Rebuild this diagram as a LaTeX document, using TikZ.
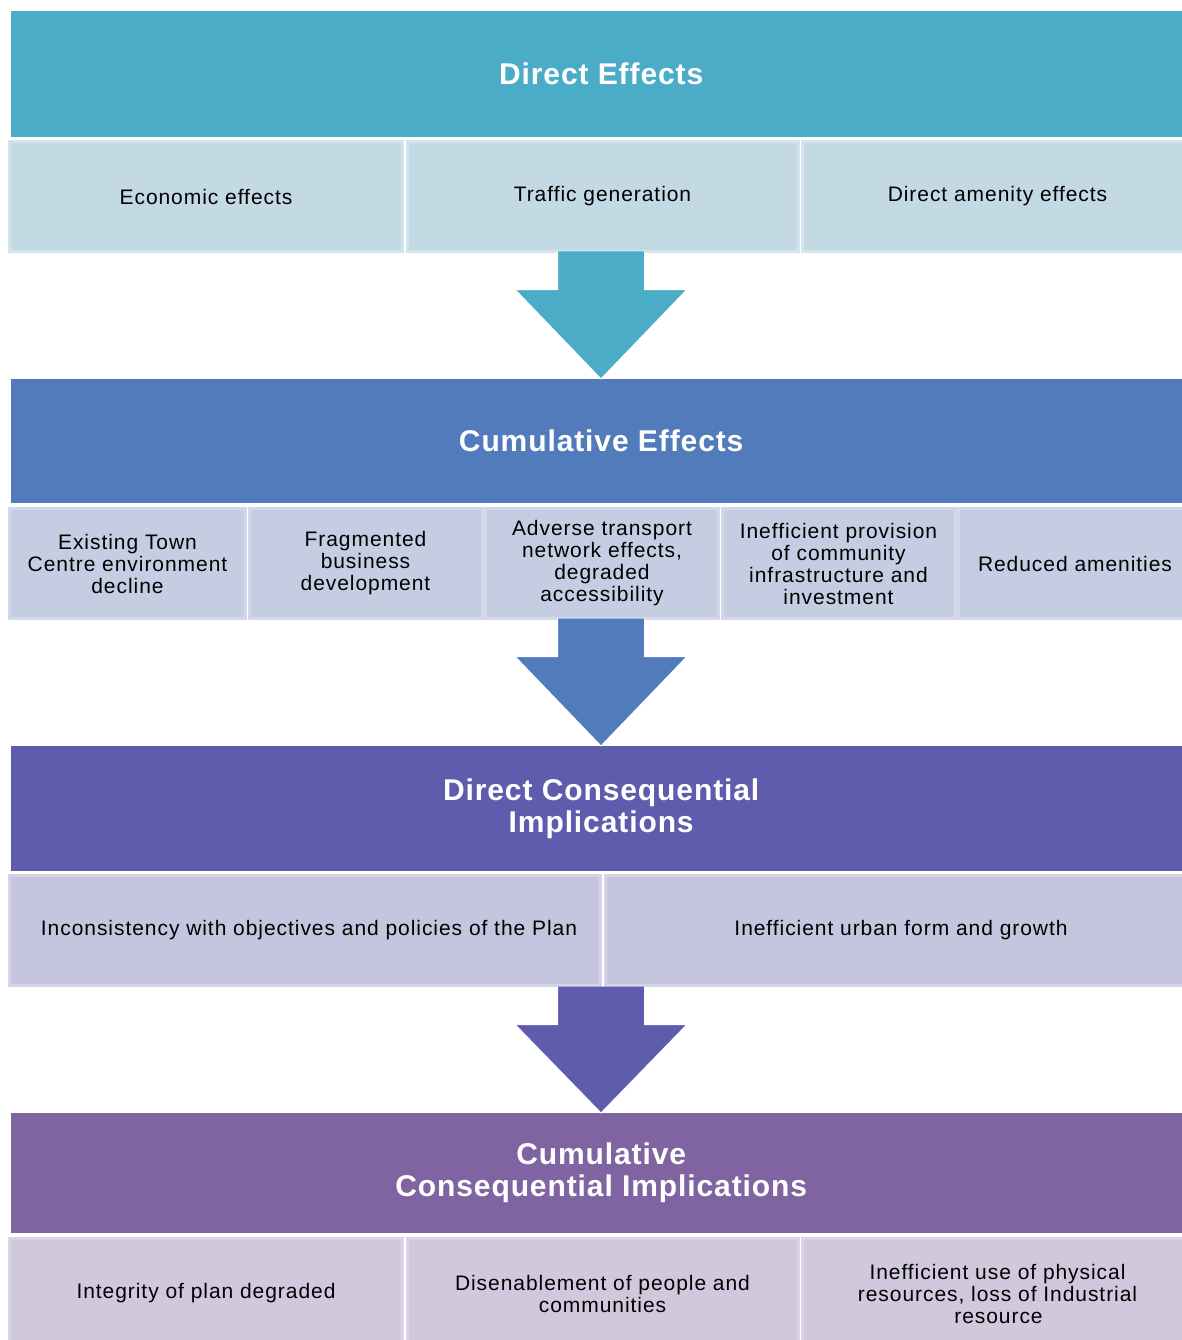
\documentclass[tikz,border=0pt]{standalone}
\usepackage{fontspec}
\setmainfont{Liberation Sans}[LetterSpace=4.5]
\newfontfamily\headfont{Liberation Sans}[LetterSpace=3]
\definecolor{bandA}{HTML}{4AACC6}
\definecolor{bandB}{HTML}{527BBC}
\definecolor{bandC}{HTML}{5F5BAD}
\definecolor{bandD}{HTML}{8064A2}
\definecolor{cellA}{HTML}{C3D9E4}
\definecolor{cellB}{HTML}{C5CDE2}
\definecolor{cellC}{HTML}{C6C5DF}
\definecolor{cellD}{HTML}{D0C9DD}
\definecolor{lineA}{HTML}{D3E4EC}
\definecolor{lineB}{HTML}{D3D9EA}
\definecolor{lineC}{HTML}{D4D3E8}
\definecolor{lineD}{HTML}{DAD4E6}
\begin{document}
\begin{tikzpicture}[x=1pt,y=-1pt,
  band/.style={anchor=north west, inner sep=0pt, minimum width=1180pt,
    text=white, align=center, font=\headfont\fontsize{30}{32}\selectfont\bfseries},
  cell/.style={anchor=north west, inner sep=0pt, line width=3pt,
    align=center, font=\fontsize{21}{22}\selectfont},
  bigarrow/.style={draw=white, line width=1pt, line join=miter}
]
\useasboundingbox (0,0) rectangle (1182,1340);
\fill[white] (0,0) rectangle (1182,1340);

% ---- Band 1
\node[band, fill=bandA, minimum height=126pt] (b1) at (11,11) {Direct Effects};
\begin{scope}[every node/.style={cell, fill=cellA, draw=lineA, minimum height=110pt}]
\node[minimum width=393pt] (r1a) at (8,140) {Economic effects};
\node[minimum width=391pt] (r1b) at (405.5,140) {Traffic generation};
\node[minimum width=390pt] (r1c) at (801,140) {Direct amenity effects};
\end{scope}

% ---- Band 2
\node[band, fill=bandB, minimum height=124pt] (b2) at (11,379) {Cumulative Effects};
\begin{scope}[every node/.style={cell, fill=cellB, draw=lineB, minimum height=110pt}]
\node[minimum width=236pt] (r2a) at (8,507) {Existing Town\\Centre environment\\decline};
\node[minimum width=233pt] (r2b) at (247.5,507) {Fragmented\\business\\development};
\node[minimum width=233pt] (r2c) at (484,507) {Adverse transport\\network effects,\\degraded\\accessibility};
\node[minimum width=233pt] (r2d) at (720.5,507) {Inefficient provision\\of community\\infrastructure and\\investment};
\node[minimum width=233pt] (r2e) at (957,507) {Reduced amenities};
\end{scope}

% ---- Band 3
\node[band, fill=bandC, minimum height=125pt] (b3) at (11,746) {Direct Consequential\\Implications};
\begin{scope}[every node/.style={cell, fill=cellC, draw=lineC, minimum height=110pt}]
\node[minimum width=591pt] (r3a) at (8,874) {\hspace*{8pt}Inconsistency with objectives and policies of the Plan};
\node[minimum width=588pt] (r3b) at (603.5,874) {\hspace*{4pt}Inefficient urban form and growth};
\end{scope}

% ---- Band 4
\node[band, fill=bandD, minimum height=120pt] (b4) at (11,1113) {Cumulative\\Consequential Implications};
\begin{scope}[every node/.style={cell, fill=cellD, draw=lineD, minimum height=110pt}]
\node[minimum width=393pt] (r4a) at (8,1237) {Integrity of plan degraded};
\node[minimum width=391pt] (r4b) at (405.5,1237) {Disenablement of people and\\communities};
\node[minimum width=390pt] (r4c) at (801,1237) {Inefficient use of physical\\resources, loss of Industrial\\resource\hspace*{-2pt}};
\end{scope}

% ---- Block arrows
\coordinate (a1s) at (601,251.5);
\coordinate (a1t) at (601,379);
\coordinate (a2s) at (601,618.5);
\coordinate (a2t) at (601,746);
\coordinate (a3s) at (601,986.5);
\coordinate (a3t) at (601,1113);
\foreach \s/\t/\c in {a1s/a1t/bandA, a2s/a2t/bandB, a3s/a3t/bandC}{
  \filldraw[bigarrow, fill=\c]
    ([xshift=-43.5pt]\s) -- ([xshift=-43.5pt,yshift=-38pt]\s)
    -- ([xshift=-86pt,yshift=-38pt]\s) -- (\t)
    -- ([xshift=86pt,yshift=-38pt]\s) -- ([xshift=43.5pt,yshift=-38pt]\s)
    -- ([xshift=43.5pt]\s);
}
\end{tikzpicture}
\end{document}
